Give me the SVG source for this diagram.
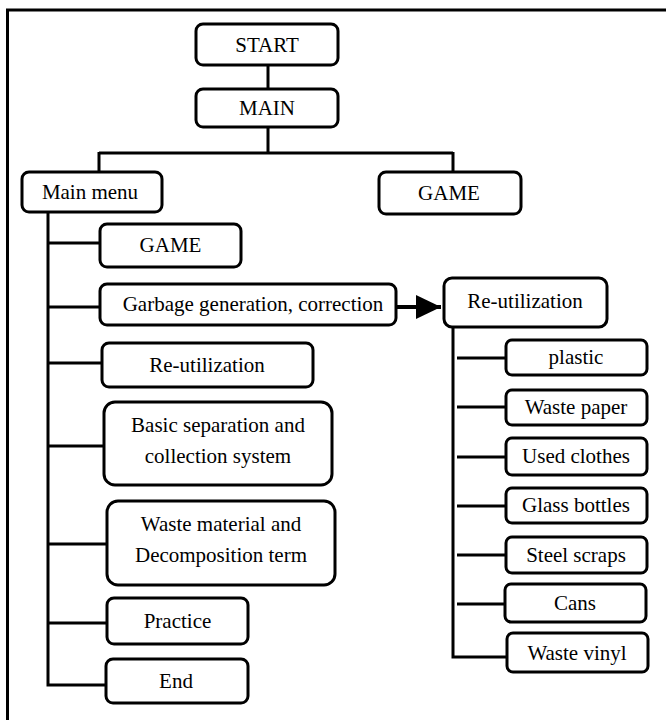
<svg xmlns="http://www.w3.org/2000/svg" width="666" height="720" viewBox="0 0 666 720">
<style>
.box{fill:#fff;stroke:#000;stroke-width:3}
.t{font-family:"Liberation Serif","Times New Roman",serif;font-size:21px;fill:#000;text-anchor:middle}
.c{fill:none;stroke:#000;stroke-width:3}
.frame{fill:none;stroke:#000;stroke-width:3}
</style>
<defs>
<marker id="ah" markerUnits="userSpaceOnUse" markerWidth="26" markerHeight="24" refX="25" refY="12" orient="auto">
<path d="M0,0 L25,12 L0,24 z" fill="#000"/>
</marker>
</defs>
<rect width="666" height="720" fill="#fff"/>
<g id="frame">
<path class="frame" d="M666,10 H7.5 V720"/>
</g>
<g id="connectors">
<path class="c" d="M268,65 V89"/>
<path class="c" d="M268,127 V153 M99,153 H453 M99,152 V172 M453,152 V172"/>
<path class="c" d="M48,212 V685 H106"/>
<path class="c" d="M48,243 H100 M48,307 H100 M48,363 H102 M48,446 H104 M48,544 H107 M48,623 H107"/>
<path class="c" d="M453,327 V657 H507"/>
<path class="c" d="M457,358 H506 M457,407 H506 M457,457 H506 M457,506 H506 M457,555 H506 M457,604 H505"/>
<path d="M396,307 H441" stroke="#000" stroke-width="4" fill="none" marker-end="url(#ah)"/>
</g>
<g id="n-start"><rect class="box" x="196" y="24" width="142" height="41" rx="7"/><text class="t" x="267" y="52">START</text></g>
<g id="n-main"><rect class="box" x="196" y="89" width="142" height="38" rx="7"/><text class="t" x="267" y="115">MAIN</text></g>
<g id="n-mainmenu"><rect class="box" x="22" y="172" width="140" height="40" rx="7"/><text class="t" x="90" y="199">Main menu</text></g>
<g id="n-game-top"><rect class="box" x="379" y="172" width="142" height="42" rx="7"/><text class="t" x="449" y="200">GAME</text></g>
<g id="n-game"><rect class="box" x="100" y="224" width="141" height="43" rx="7"/><text class="t" x="170.5" y="252">GAME</text></g>
<g id="n-garbage"><rect class="box" x="100" y="284" width="296" height="41" rx="7"/><text class="t" x="253" y="311">Garbage generation, correction</text></g>
<g id="n-reutil-left"><rect class="box" x="102" y="343" width="211" height="44" rx="7"/><text class="t" x="207" y="372">Re-utilization</text></g>
<g id="n-basic"><rect class="box" x="104" y="402" width="228" height="83" rx="11"/><text class="t" x="218" y="432">Basic separation and</text><text class="t" x="218" y="463">collection system</text></g>
<g id="n-waste"><rect class="box" x="107" y="501" width="228" height="84" rx="11"/><text class="t" x="221" y="531">Waste material and</text><text class="t" x="221" y="562">Decomposition term</text></g>
<g id="n-practice"><rect class="box" x="107" y="598" width="141" height="46" rx="7"/><text class="t" x="177.5" y="628">Practice</text></g>
<g id="n-end"><rect class="box" x="106" y="659" width="142" height="44" rx="7"/><text class="t" x="176" y="688">End</text></g>
<g id="n-reutil-right"><rect class="box" x="444" y="278" width="163" height="49" rx="8"/><text class="t" x="525" y="308">Re-utilization</text></g>
<g id="n-plastic"><rect class="box" x="506" y="340" width="141" height="35" rx="6"/><text class="t" x="576" y="364">plastic</text></g>
<g id="n-paper"><rect class="box" x="506" y="390" width="141" height="35" rx="6"/><text class="t" x="576" y="414">Waste paper</text></g>
<g id="n-clothes"><rect class="box" x="506" y="438" width="141" height="37" rx="6"/><text class="t" x="576" y="463">Used clothes</text></g>
<g id="n-glass"><rect class="box" x="506" y="488" width="141" height="35" rx="6"/><text class="t" x="576" y="512">Glass bottles</text></g>
<g id="n-steel"><rect class="box" x="506" y="537" width="141" height="36" rx="6"/><text class="t" x="576" y="562">Steel scraps</text></g>
<g id="n-cans"><rect class="box" x="505" y="584" width="141" height="38" rx="6"/><text class="t" x="575" y="610">Cans</text></g>
<g id="n-vinyl"><rect class="box" x="507" y="633" width="141" height="39" rx="6"/><text class="t" x="577" y="660">Waste vinyl</text></g>
</svg>
